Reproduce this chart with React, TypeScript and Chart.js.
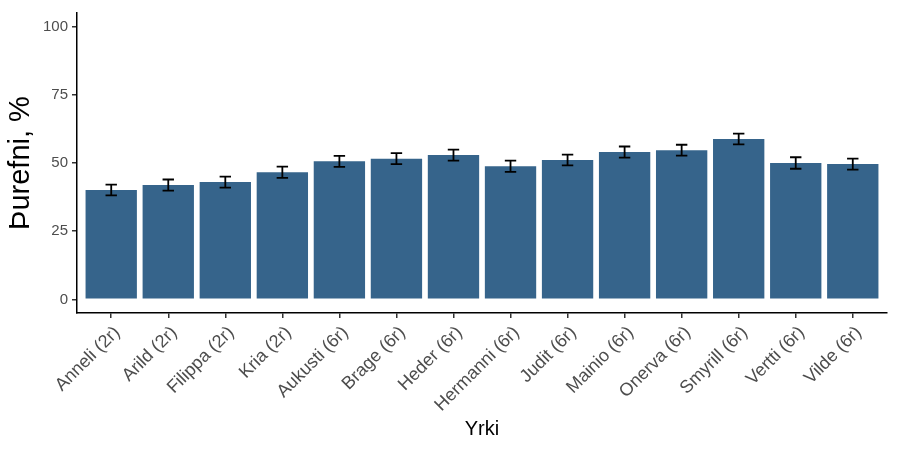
import React, { useEffect, useRef } from "react";
import { Chart, registerables } from "chart.js";

Chart.register(...registerables);

const categories = [
  "Anneli (2r)", "Arild (2r)", "Filippa (2r)", "Kria (2r)", "Aukusti (6r)",
  "Brage (6r)", "Heder (6r)", "Hermanni (6r)", "Judit (6r)", "Mainio (6r)",
  "Onerva (6r)", "Smyrill (6r)", "Vertti (6r)", "Vilde (6r)",
];
const values = [40.1, 41.9, 43.0, 46.6, 50.6, 51.6, 52.9, 48.8, 51.1, 54.0, 54.7, 58.8, 50.0, 49.6];
const errors = [2.0, 2.05, 2.0, 2.05, 2.0, 2.0, 2.0, 2.05, 2.0, 2.05, 2.0, 2.0, 2.1, 2.0];
const yTicks = [0, 25, 50, 75, 100];
const yTitle = "Þurefni, %";
const xTitle = "Yrki";

const FONT = "'Liberation Sans', Arial, sans-serif";

const errorBarPlugin = {
  id: "errorBars",
  afterDatasetsDraw(chart: any) {
    const { ctx, scales } = chart;
    const xs = scales.x;
    const ys = scales.y;
    ctx.save();
    ctx.strokeStyle = "#000000";
    ctx.lineWidth = 1.8;
    values.forEach((v, i) => {
      const x = xs.getPixelForValue(i);
      const xl = xs.getPixelForValue(i - 0.1);
      const xr = xs.getPixelForValue(i + 0.1);
      const yt = ys.getPixelForValue(v + errors[i]);
      const yb = ys.getPixelForValue(v - errors[i]);
      ctx.beginPath();
      ctx.moveTo(x, yt);
      ctx.lineTo(x, yb);
      ctx.moveTo(xl, yt);
      ctx.lineTo(xr, yt);
      ctx.moveTo(xl, yb);
      ctx.lineTo(xr, yb);
      ctx.stroke();
    });
    ctx.restore();
  },
};

export default function App() {
  const ref = useRef<HTMLCanvasElement | null>(null);
  useEffect(() => {
    if (!ref.current) return;
    const chart = new Chart(ref.current, {
      type: "bar",
      data: {
        datasets: [
          {
            data: values.map((v, i) => ({ x: i, y: v })),
            backgroundColor: "#36648B",
            borderWidth: 0,
            barPercentage: 0.9,
            categoryPercentage: 1.0,
          },
        ],
      },
      options: {
        animation: false,
        responsive: false,
        maintainAspectRatio: false,
        layout: { padding: { top: 10, right: 10, left: 0, bottom: 0 } },
        plugins: { legend: { display: false }, tooltip: { enabled: false } },
        scales: {
          x: {
            type: "linear",
            min: -0.6,
            max: 13.6,
            offset: false,
            afterBuildTicks: (scale: any) => {
              scale.ticks = categories.map((_, i) => ({ value: i }));
            },
            afterFit: (scale: any) => {
              scale.height = 136;
            },
            grid: {
              display: true,
              offset: false,
              drawOnChartArea: false,
              drawTicks: true,
              tickLength: 5,
              color: "#333333",
              lineWidth: 1.5,
            },
            border: { display: true, color: "#000000", width: 1.5 },
            ticks: {
              autoSkip: false,
              minRotation: 45,
              maxRotation: 45,
              padding: 4,
              labelOffset: 6,
              color: "#4D4D4D",
              font: { family: FONT, size: 18 },
              callback: (value: any) => categories[Math.round(Number(value))] ?? "",
            },
            title: {
              display: true,
              text: xTitle,
              color: "#000000",
              font: { family: FONT, size: 20 },
              padding: { top: 0, bottom: 8 },
            },
          },
          y: {
            type: "linear",
            min: -5,
            max: 105,
            afterBuildTicks: (scale: any) => {
              scale.ticks = yTicks.map((v) => ({ value: v }));
            },
            afterFit: (scale: any) => {
              scale.width = 77;
            },
            grid: {
              display: true,
              drawOnChartArea: false,
              drawTicks: true,
              tickLength: 5,
              color: "#333333",
              lineWidth: 1.5,
            },
            border: { display: true, color: "#000000", width: 1.5 },
            ticks: {
              padding: 4,
              color: "#4D4D4D",
              font: { family: FONT, size: 15 },
            },
            title: {
              display: true,
              text: yTitle,
              color: "#000000",
              font: { family: FONT, size: 29 },
              padding: { top: 4, bottom: 0 },
            },
          },
        },
      },
      plugins: [errorBarPlugin],
    } as any);
    return () => chart.destroy();
  }, []);
  return (
    <div style={{ position: "absolute", left: 0, top: 0, width: 897, height: 449, background: "#ffffff" }}>
      <canvas ref={ref} width={897} height={449} />
    </div>
  );
}
